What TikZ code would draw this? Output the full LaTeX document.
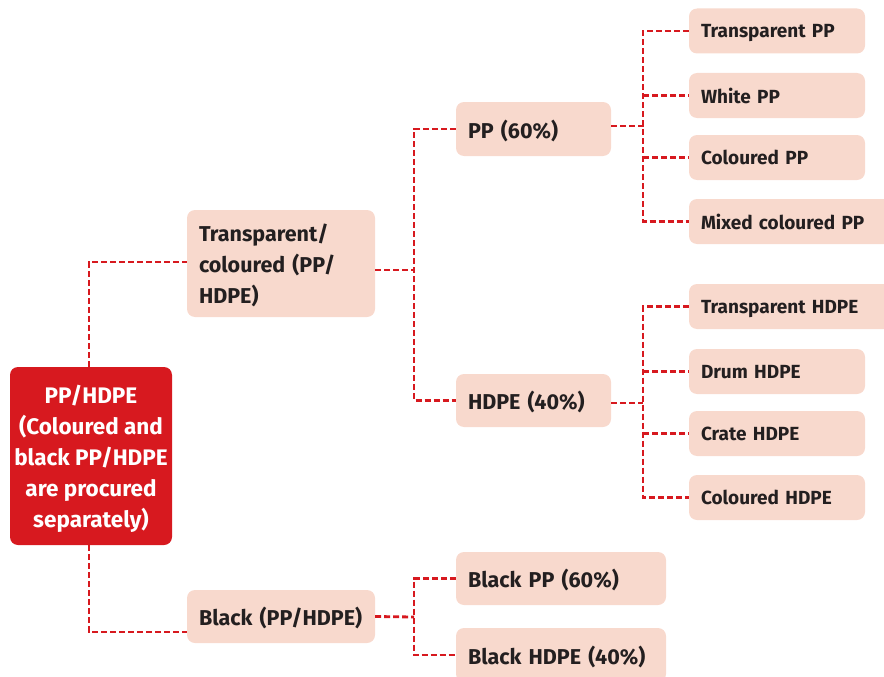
\documentclass[tikz,border=0pt]{standalone}
\usepackage{fontspec}
\setmainfont{Fira Sans}
\definecolor{tred}{HTML}{D7191F}
\definecolor{tpeach}{HTML}{F8D9CD}
\definecolor{tink}{HTML}{231F20}
\tikzset{
  box/.style={fill=tpeach, rounded corners=8pt, inner xsep=12pt, inner ysep=0pt,
    text depth=0pt, font=\bfseries\fontsize{21.5}{31}\selectfont, text=tink, align=left},
  rootbox/.style={fill=tred, rounded corners=8pt, inner sep=0pt, text depth=0pt,
    font=\bfseries\fontsize{22.5}{31}\selectfont, text=white, align=center,
    minimum width=162pt, minimum height=178pt},
  conn/.style={draw=tred, line width=2.8pt, dash pattern=on 6pt off 3pt}
}
\begin{document}
\begin{tikzpicture}[x=1pt,y=-1pt]
\clip (0,0) rectangle (884,677);
% root
\node[rootbox] (root) at (91,456) {PP/HDPE\\(Coloured and\\black PP/HDPE\\are procured\\separately)};
% second level
\node[box, text depth=61pt, minimum width=188pt, minimum height=107pt, text width=164pt] (tc) at (281,263.5) {Transparent/\\coloured (PP/\\HDPE)};
\node[box, minimum width=188pt, minimum height=53pt, text width=164pt] (blk) at (281,616.5) {Black (PP/HDPE)};
% third level
\node[box, minimum width=155pt, minimum height=54pt, text width=131pt] (pp) at (533.5,129) {PP (60\%)};
\node[box, minimum width=155pt, minimum height=53pt, text width=131pt] (hdpe) at (533.5,400.5) {HDPE (40\%)};
\node[box, minimum width=210pt, minimum height=53pt, text width=186pt] (bpp) at (561,578.5) {Black PP (60\%)};
\node[box, minimum width=210pt, minimum height=54pt, text width=186pt] (bhdpe) at (561,655) {Black HDPE (40\%)};
% leaves
\tikzset{leaf/.style={box, font=\bfseries\fontsize{19}{31}\selectfont,
           minimum width=176pt, minimum height=45pt, text width=152pt},
         wleaf/.style={leaf, minimum width=211pt, text width=187pt}}
\node[leaf]  (l1) at (777,31)    {Transparent PP};
\node[leaf]  (l2) at (777,95.5)  {White PP};
\node[leaf]  (l3) at (777,157.5) {Coloured PP};
\node[wleaf] (l4) at (794.5,221.5) {Mixed coloured PP};
\node[wleaf] (h1) at (794.5,306.5) {Transparent HDPE};
\node[leaf]  (h2) at (777,371.5) {Drum HDPE};
\node[leaf]  (h3) at (777,433.5) {Crate HDPE};
\node[leaf]  (h4) at (777,497.5) {Coloured HDPE};
% junctions
\coordinate (tj) at (414,270);
\coordinate (pj) at (643,126);
\coordinate (hj) at (643,403);
\coordinate (bj) at (414,617);
% connectors
\draw[conn] ([xshift=-2pt]root.north) |- ([yshift=1.5pt]tc.west);
\draw[conn] ([xshift=-2pt]root.south) |- ([yshift=-15.5pt]blk.west);
\draw[conn] ([yshift=-6.5pt]tc.east) -- (tj);
\draw[conn] (pp.west) -| (tj) |- (hdpe.west);
\draw[conn] ([yshift=3pt]pp.east) -- (pj);
\draw[conn] (l1.west) -| (pj) |- (l4.west);
\draw[conn] (pj |- l2.west) -- (l2.west);
\draw[conn] (pj |- l3.west) -- (l3.west);
\draw[conn] ([yshift=-2.5pt]hdpe.east) -- (hj);
\draw[conn] (h1.west) -| (hj) |- (h4.west);
\draw[conn] (hj |- h2.west) -- (h2.west);
\draw[conn] (hj |- h3.west) -- (h3.west);
\draw[conn] (blk.east) -- (bj);
\draw[conn] (bpp.west) -| (bj) |- (bhdpe.west);
\end{tikzpicture}
\end{document}
